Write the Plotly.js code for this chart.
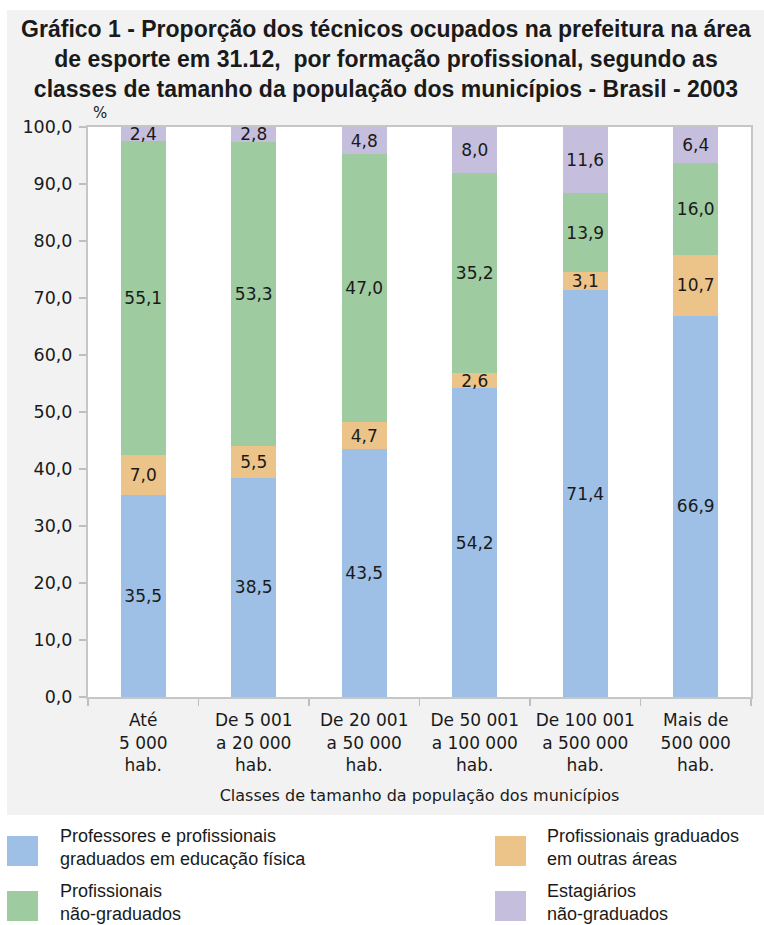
<!DOCTYPE html>
<html>
<head>
<meta charset="utf-8">
<script src="https://cdn.plot.ly/plotly-3.0.1.min.js"></script>
<style>html,body{margin:0;padding:0;background:#fff;}#chart{width:764px;height:925px;}</style>
</head>
<body>
<div id="chart"></div>
<script>
// ---- Data ----
const categories = [
  "Até<br>5 000<br>hab.",
  "De 5 001<br>a 20 000<br>hab.",
  "De 20 001<br>a 50 000<br>hab.",
  "De 50 001<br>a 100 000<br>hab.",
  "De 100 001<br>a 500 000<br>hab.",
  "Mais de<br>500 000<br>hab."
];
const seriesNames = [
  "Professores e profissionais<br>graduados em educação física",
  "Profissionais graduados<br>em outras áreas",
  "Profissionais<br>não-graduados",
  "Estagiários<br>não-graduados"
];
const professoresEdFisica = [35.5, 38.5, 43.5, 54.2, 71.4, 66.9];
const graduadosOutras     = [7.0, 5.5, 4.7, 2.6, 3.1, 10.7];
const naoGraduados        = [55.1, 53.3, 47.0, 35.2, 13.9, 16.0];
const estagiarios         = [2.4, 2.8, 4.8, 8.0, 11.6, 6.4];
const seriesValues = [professoresEdFisica, graduadosOutras, naoGraduados, estagiarios];
const seriesColors = ["#9ec0e6", "#ecc48a", "#9ecb9f", "#c5bedd"];

const titleText = "Gráfico 1 - Proporção dos técnicos ocupados na prefeitura na área<br>de esporte em 31.12,  por formação profissional, segundo as<br>classes de tamanho da população dos municípios - Brasil - 2003";
const xTitle = "Classes de tamanho da população dos municípios";
const yUnit = "%";

// ---- Geometry helpers (pixel -> paper) ----
const W = 764, H = 925;
const L = 88, R = 751, T = 127, B = 697;
const fx = px => (px - L) / (R - L);
const fy = py => (B - py) / (B - T);

const FONT = "DejaVu Sans, Verdana, sans-serif";
const TFONT = "Liberation Sans, Arial, sans-serif";

const traces = seriesValues.map((vals, i) => ({
  type: "bar",
  x: categories,
  y: vals,
  name: seriesNames[i],
  marker: {color: seriesColors[i], line: {width: 0}},
  texttemplate: "%{y:.1f}",
  textposition: "inside",
  insidetextanchor: "middle",
  textangle: 0,
  constraintext: "none",
  textfont: {family: FONT, size: 17, color: "#1a1a1a"},
  hoverinfo: "skip",
  showlegend: false
}));

const shapes = [];
const annotations = [];
// white areas outside the grey panel
const whiteRect = (x0, y0, x1, y1) => shapes.push({
  type: "rect", xref: "paper", yref: "paper", layer: "below",
  x0: fx(x0), x1: fx(x1), y0: fy(y1), y1: fy(y0),
  fillcolor: "#ffffff", line: {width: 0}
});
whiteRect(0, 0, W, 10);
whiteRect(0, 0, 7, H);
whiteRect(0, 815, W, H);

// custom legend
const legendPos = [
  {sx: 7, sy: 836, tx: 60, ty: 847},
  {sx: 495, sy: 836, tx: 547, ty: 847},
  {sx: 7, sy: 891, tx: 60, ty: 902},
  {sx: 495, sy: 891, tx: 547, ty: 902}
];
const legendOrder = [0, 1, 2, 3];
legendOrder.forEach((si, k) => {
  const p = legendPos[k];
  shapes.push({
    type: "rect", xref: "paper", yref: "paper",
    x0: fx(p.sx), x1: fx(p.sx + 31), y0: fy(p.sy + 30), y1: fy(p.sy),
    fillcolor: seriesColors[si], line: {width: 0}
  });
  annotations.push({
    xref: "paper", yref: "paper", x: fx(p.tx - 2), y: fy(p.ty),
    xanchor: "left", yanchor: "middle", align: "left", showarrow: false,
    text: seriesNames[si],
    font: {family: TFONT, size: 18, color: "#1a1a1a"}
  });
});

annotations.push({
  xref: "paper", yref: "paper", x: fx(100), y: fy(113),
  xanchor: "center", yanchor: "middle", showarrow: false,
  text: yUnit, font: {family: FONT, size: 15, color: "#1a1a1a"}
});

const layout = {
  width: W, height: H,
  paper_bgcolor: "#f2f2f2",
  plot_bgcolor: "#ffffff",
  separators: ",.",
  margin: {l: L, r: W - R, t: T, b: H - B, pad: 0},
  barmode: "stack",
  bargap: 0.593,
  showlegend: false,
  title: {
    text: titleText,
    font: {family: TFONT, size: 23, color: "#1a1a1a", weight: "bold"},
    x: 386 / W, xref: "container", xanchor: "center",
    y: 1 - 37 / H, yref: "container", yanchor: "middle"
  },
  xaxis: {
    type: "category",
    tickson: "boundaries",
    ticks: "outside", ticklen: 7, tickcolor: "#bfbfbf", tickwidth: 1.5,
    showline: true, mirror: true, linecolor: "#c6c6c6", linewidth: 2,
    showgrid: false, zeroline: false,
    ticklabelstandoff: 7,
    tickfont: {family: FONT, size: 17, color: "#1a1a1a"},
    title: {text: xTitle, font: {family: FONT, size: 16, color: "#1a1a1a"}, standoff: 16},
    fixedrange: true
  },
  yaxis: {
    range: [0, 100], dtick: 10, tick0: 0,
    tickformat: ".1f",
    ticks: "outside", ticklen: 7, tickcolor: "#bfbfbf", tickwidth: 1.5,
    showline: true, mirror: true, linecolor: "#c6c6c6", linewidth: 2,
    showgrid: false, zeroline: false,
    ticklabelstandoff: 3,
    tickfont: {family: FONT, size: 17.5, color: "#1a1a1a"},
    fixedrange: true
  },
  shapes: shapes,
  annotations: annotations,
  font: {family: FONT, color: "#1a1a1a"}
};

Plotly.newPlot("chart", traces, layout, {displayModeBar: false, staticPlot: true});
</script>
</body>
</html>
